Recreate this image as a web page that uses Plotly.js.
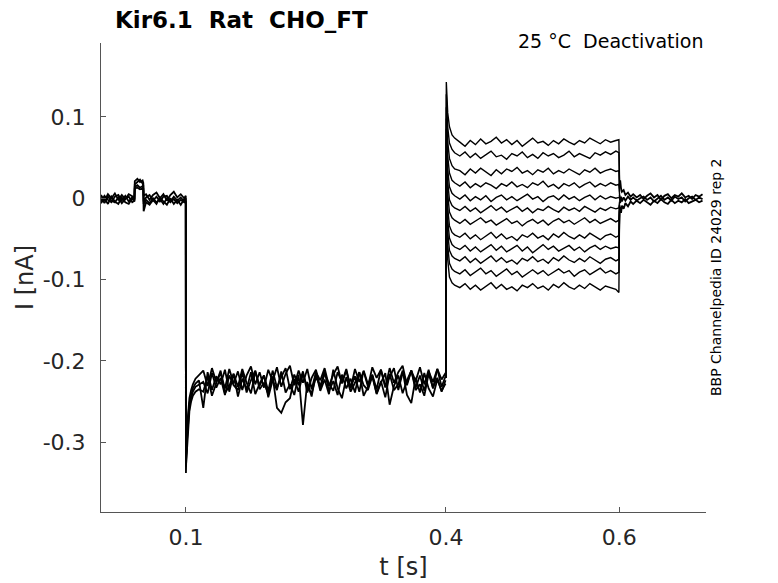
<!DOCTYPE html>
<html>
<head>
<meta charset="utf-8">
<script src="https://cdn.plot.ly/plotly-3.0.1.min.js"></script>
<style>
  body { margin: 0; background: #fff; }
  #plot { width: 778px; height: 583px; }
</style>
</head>
<body>
<div id="plot"></div>
<script>
// holding + prepulse segment (the sweeps overlap here, drawn as a band)
var tBase = [0.002, 0.006, 0.010, 0.014, 0.018, 0.022, 0.026, 0.030, 0.034, 0.038,
	0.0405, 0.041, 0.044, 0.047, 0.050, 0.0508, 0.0512, 0.054, 0.058, 0.062,
	0.066, 0.070, 0.074, 0.078, 0.082, 0.086, 0.090, 0.094, 0.098, 0.0998];
var tDrop = [0.1000, 0.1008, 0.1015, 0.1025, 0.104, 0.106, 0.108, 0.111, 0.115];
var tHyp = [0.120, 0.125, 0.130, 0.135, 0.140, 0.145, 0.150, 0.155, 0.160, 0.165,
	0.170, 0.175, 0.180, 0.185, 0.190, 0.195, 0.200, 0.205, 0.210, 0.215,
	0.220, 0.225, 0.230, 0.235, 0.240, 0.245, 0.250, 0.255, 0.260, 0.265,
	0.270, 0.275, 0.280, 0.285, 0.290, 0.295, 0.300, 0.305, 0.310, 0.315,
	0.320, 0.325, 0.330, 0.335, 0.340, 0.345, 0.350, 0.355, 0.360, 0.365,
	0.370, 0.375, 0.380, 0.385, 0.390, 0.395, 0.3995];

var baseA = [0.004, -0.003, 0.005, 0.000, 0.006, -0.002, 0.004, -0.001, 0.005, 0.002,
	0.001, 0.021, 0.024, 0.020, 0.022, 0.019, 0.003, 0.005, -0.002, 0.004,
	0.007, 0.000, 0.005, -0.003, 0.004, 0.008, 0.001, 0.005, 0.000, 0.003];
var baseB = [-0.004, 0.003, -0.002, -0.005, 0.002, 0.004, -0.003, 0.003, -0.004, 0.001,
	-0.002, 0.017, 0.020, 0.023, 0.018, 0.016, -0.004, 0.001, 0.004, -0.003,
	0.002, -0.004, 0.002, 0.003, -0.004, 0.002, -0.003, 0.001, -0.004, 0.000];
var baseC = [0.001, -0.006, 0.002, -0.003, -0.005, 0.001, -0.006, -0.001, 0.002, -0.005,
	-0.003, 0.014, 0.016, 0.013, 0.015, 0.012, -0.007, -0.002, -0.006, 0.000,
	-0.005, -0.001, -0.007, 0.000, -0.005, -0.001, -0.006, -0.002, -0.005, -0.003];
var baseD = [-0.006, 0.000, -0.007, 0.002, -0.004, -0.007, 0.001, -0.005, -0.007, 0.000,
	-0.004, 0.012, 0.013, 0.011, 0.012, 0.010, -0.016, -0.005, -0.008, -0.002,
	-0.007, 0.001, -0.004, -0.008, 0.000, -0.007, -0.002, -0.008, -0.001, -0.005];

var dropA = [-0.338, -0.300, -0.279, -0.262, -0.246, -0.236, -0.229, -0.222, -0.218];
var dropB = [-0.325, -0.305, -0.288, -0.270, -0.252, -0.241, -0.234, -0.228, -0.224];
var dropC = [-0.318, -0.310, -0.293, -0.276, -0.257, -0.245, -0.238, -0.232, -0.229];
var dropD = [-0.330, -0.315, -0.297, -0.281, -0.262, -0.250, -0.243, -0.238, -0.235];

var hypA = [-0.212, -0.231, -0.209, -0.226, -0.215, -0.234, -0.210, -0.228, -0.213, -0.236,
	-0.218, -0.207, -0.229, -0.214, -0.233, -0.211, -0.225, -0.208, -0.232, -0.216,
	-0.206, -0.230, -0.212, -0.227, -0.210, -0.235, -0.214, -0.224, -0.209, -0.231,
	-0.217, -0.207, -0.228, -0.212, -0.234, -0.210, -0.226, -0.213, -0.232, -0.208,
	-0.221, -0.211, -0.233, -0.209, -0.227, -0.214, -0.206, -0.230, -0.212, -0.225,
	-0.208, -0.229, -0.211, -0.234, -0.210, -0.223, -0.215];
var hypB = [-0.258, -0.214, -0.236, -0.219, -0.229, -0.211, -0.238, -0.216, -0.232, -0.210,
	-0.227, -0.240, -0.213, -0.231, -0.218, -0.237, -0.212, -0.233, -0.220, -0.209,
	-0.235, -0.217, -0.230, -0.213, -0.239, -0.221, -0.211, -0.234, -0.216, -0.228,
	-0.237, -0.214, -0.226, -0.210, -0.233, -0.219, -0.238, -0.212, -0.229, -0.217,
	-0.235, -0.211, -0.231, -0.220, -0.209, -0.236, -0.215, -0.228, -0.212, -0.233,
	-0.218, -0.237, -0.213, -0.226, -0.210, -0.232, -0.219];
var hypC = [-0.226, -0.240, -0.215, -0.233, -0.221, -0.242, -0.218, -0.230, -0.236, -0.214,
	-0.239, -0.224, -0.212, -0.235, -0.227, -0.241, -0.219, -0.258, -0.264, -0.251,
	-0.246, -0.222, -0.238, -0.216, -0.233, -0.240, -0.220, -0.231, -0.213, -0.237,
	-0.225, -0.242, -0.217, -0.234, -0.222, -0.239, -0.214, -0.230, -0.236, -0.219,
	-0.241, -0.227, -0.215, -0.254, -0.231, -0.218, -0.240, -0.224, -0.212, -0.236,
	-0.229, -0.243, -0.216, -0.233, -0.221, -0.238, -0.224];
var hypD = [-0.238, -0.219, -0.243, -0.227, -0.212, -0.240, -0.231, -0.216, -0.244, -0.222,
	-0.235, -0.214, -0.241, -0.228, -0.218, -0.245, -0.224, -0.236, -0.213, -0.239,
	-0.229, -0.242, -0.217, -0.279, -0.226, -0.244, -0.215, -0.237, -0.223, -0.241,
	-0.211, -0.234, -0.246, -0.220, -0.238, -0.227, -0.214, -0.243, -0.232, -0.218,
	-0.240, -0.225, -0.245, -0.216, -0.236, -0.229, -0.212, -0.242, -0.252, -0.221,
	-0.239, -0.215, -0.234, -0.244, -0.223, -0.237, -0.228];

// test pulses, one per sweep
var tTest = [0.4000, 0.4004, 0.402, 0.404, 0.407, 0.410,
	0.416, 0.422, 0.428, 0.434, 0.440, 0.446, 0.452, 0.458, 0.464, 0.470,
	0.476, 0.482, 0.488, 0.494, 0.500, 0.506, 0.512, 0.518, 0.524, 0.530,
	0.536, 0.542, 0.548, 0.554, 0.560, 0.566, 0.572, 0.578, 0.584, 0.590,
	0.596, 0.5995, 0.6003];

var test0 = [-0.221, 0.143, 0.105, 0.088, 0.078, 0.074,
	0.069, 0.064, 0.071, 0.066, 0.073, 0.067, 0.070, 0.075, 0.068, 0.072,
	0.066, 0.071, 0.064, 0.069, 0.074, 0.068, 0.070, 0.065, 0.071, 0.067,
	0.073, 0.069, 0.066, 0.071, 0.068, 0.074, 0.070, 0.067, 0.072, 0.069,
	0.071, 0.072, 0.016];
var test1 = [-0.221, 0.128, 0.088, 0.068, 0.060, 0.056,
	0.052, 0.057, 0.050, 0.055, 0.049, 0.054, 0.058, 0.051, 0.053, 0.048,
	0.055, 0.052, 0.057, 0.050, 0.054, 0.049, 0.056, 0.052, 0.055, 0.050,
	0.053, 0.058, 0.051, 0.055, 0.052, 0.049, 0.056, 0.053, 0.057, 0.054,
	0.058, 0.056, 0.012];
var test2 = [-0.221, 0.112, 0.070, 0.049, 0.040, 0.036,
	0.034, 0.029, 0.036, 0.031, 0.037, 0.032, 0.028, 0.035, 0.030, 0.036,
	0.033, 0.038, 0.031, 0.034, 0.029, 0.035, 0.032, 0.037, 0.030, 0.034,
	0.031, 0.036, 0.033, 0.029, 0.035, 0.032, 0.037, 0.031, 0.034, 0.036,
	0.033, 0.034, 0.008];
var test3 = [-0.221, 0.098, 0.052, 0.031, 0.022, 0.019,
	0.015, 0.020, 0.013, 0.018, 0.014, 0.019, 0.016, 0.012, 0.018, 0.015,
	0.020, 0.014, 0.017, 0.013, 0.019, 0.016, 0.021, 0.014, 0.017, 0.012,
	0.018, 0.015, 0.019, 0.013, 0.017, 0.020, 0.014, 0.018, 0.015, 0.019,
	0.016, 0.017, 0.004];
var test4 = [-0.221, 0.085, 0.036, 0.014, 0.006, 0.003,
	-0.001, 0.004, -0.003, 0.002, -0.002, 0.003, -0.004, 0.001, 0.004, -0.002,
	0.002, -0.003, 0.001, 0.005, -0.001, 0.002, -0.004, 0.001, 0.003, -0.002,
	0.004, -0.001, 0.002, -0.003, 0.001, 0.004, -0.002, 0.003, -0.001, 0.002,
	0.000, 0.001, 0.000];
var test5 = [-0.221, 0.072, 0.020, -0.002, -0.009, -0.012,
	-0.015, -0.010, -0.016, -0.012, -0.018, -0.013, -0.009, -0.015, -0.011, -0.017,
	-0.014, -0.010, -0.016, -0.012, -0.018, -0.013, -0.015, -0.010, -0.014, -0.017,
	-0.011, -0.015, -0.012, -0.016, -0.010, -0.014, -0.017, -0.012, -0.015, -0.011,
	-0.013, -0.012, -0.004];
var test6 = [-0.221, 0.058, 0.005, -0.017, -0.024, -0.027,
	-0.031, -0.026, -0.032, -0.028, -0.024, -0.030, -0.027, -0.033, -0.029, -0.025,
	-0.031, -0.028, -0.034, -0.029, -0.026, -0.031, -0.027, -0.033, -0.028, -0.025,
	-0.030, -0.027, -0.032, -0.028, -0.024, -0.030, -0.026, -0.031, -0.028, -0.025,
	-0.029, -0.027, -0.008];
var test7 = [-0.221, 0.044, -0.012, -0.034, -0.042, -0.045,
	-0.048, -0.043, -0.050, -0.045, -0.051, -0.046, -0.042, -0.049, -0.044, -0.050,
	-0.047, -0.052, -0.045, -0.048, -0.043, -0.049, -0.046, -0.051, -0.044, -0.048,
	-0.042, -0.047, -0.050, -0.045, -0.049, -0.043, -0.047, -0.051, -0.046, -0.044,
	-0.048, -0.046, -0.011];
var test8 = [-0.221, 0.030, -0.027, -0.049, -0.057, -0.060,
	-0.063, -0.058, -0.065, -0.060, -0.066, -0.061, -0.057, -0.064, -0.059, -0.066,
	-0.062, -0.058, -0.065, -0.060, -0.067, -0.062, -0.057, -0.063, -0.059, -0.065,
	-0.061, -0.058, -0.064, -0.060, -0.066, -0.061, -0.058, -0.063, -0.059, -0.062,
	-0.060, -0.061, -0.014];
var test9 = [-0.221, 0.015, -0.042, -0.064, -0.071, -0.074,
	-0.077, -0.072, -0.079, -0.074, -0.080, -0.075, -0.071, -0.078, -0.073, -0.079,
	-0.076, -0.081, -0.074, -0.077, -0.072, -0.078, -0.075, -0.080, -0.073, -0.077,
	-0.071, -0.076, -0.079, -0.074, -0.078, -0.072, -0.076, -0.080, -0.075, -0.073,
	-0.077, -0.075, -0.016];
var test10 = [-0.221, 0.000, -0.058, -0.080, -0.087, -0.090,
	-0.093, -0.088, -0.095, -0.090, -0.086, -0.093, -0.089, -0.096, -0.091, -0.087,
	-0.094, -0.090, -0.097, -0.092, -0.088, -0.093, -0.089, -0.095, -0.091, -0.087,
	-0.092, -0.089, -0.096, -0.091, -0.088, -0.094, -0.090, -0.086, -0.092, -0.089,
	-0.093, -0.091, -0.012];
var test11 = [-0.221, -0.020, -0.075, -0.097, -0.104, -0.107,
	-0.110, -0.105, -0.112, -0.107, -0.113, -0.108, -0.104, -0.111, -0.106, -0.112,
	-0.109, -0.114, -0.107, -0.110, -0.105, -0.111, -0.108, -0.113, -0.106, -0.110,
	-0.104, -0.109, -0.112, -0.107, -0.111, -0.105, -0.109, -0.113, -0.108, -0.110,
	-0.112, -0.116, -0.008];

// tail after the test pulse
var tTail = [0.6003, 0.601, 0.602, 0.603, 0.605, 0.607, 0.610, 0.613, 0.616,
	0.620, 0.624, 0.628, 0.632, 0.636, 0.640, 0.644, 0.648, 0.652, 0.656,
	0.660, 0.664, 0.668, 0.672, 0.676, 0.680, 0.684, 0.688, 0.692, 0.696];
var tailE = [0.016, 0.022, 0.012, 0.008, 0.010, 0.004, 0.007, 0.002, 0.005,
	0.001, 0.004, -0.001, 0.003, 0.006, 0.001, 0.004, -0.002, 0.003, 0.005,
	0.000, 0.004, 0.002, 0.006, 0.001, 0.003, -0.001, 0.004, 0.002, 0.005];
var tailF = [0.004, -0.006, 0.002, -0.004, 0.001, -0.003, 0.002, -0.002, 0.001,
	-0.003, 0.000, 0.002, -0.002, 0.001, -0.004, 0.000, 0.003, -0.002, 0.001,
	-0.003, 0.002, -0.001, 0.001, -0.004, 0.000, 0.002, -0.002, 0.001, -0.001];
var tailG = [-0.010, -0.014, -0.018, -0.009, -0.013, -0.006, -0.010, -0.004, -0.007,
	-0.003, -0.006, -0.002, -0.005, -0.008, -0.003, -0.006, -0.001, -0.005, -0.007,
	-0.002, -0.006, -0.003, -0.005, -0.001, -0.006, -0.004, -0.002, -0.005, -0.003];

var font = 'DejaVu Sans, Liberation Sans, sans-serif';
var ink = '#000000';

function line(x, y, w){
	return {
		x: x,
		y: y,
		type: 'scatter',
		mode: 'lines',
		line: {color: ink, width: w || 1.5},
		hoverinfo: 'skip',
		showlegend: false
	};
}

var tPre = tBase.concat(tDrop, tHyp);
var data = [
	line(tPre, baseA.concat(dropA, hypA), 1.8),
	line(tPre, baseB.concat(dropB, hypB), 1.8),
	line(tPre, baseC.concat(dropC, hypC), 1.8),
	line(tPre, baseD.concat(dropD, hypD), 1.8)
];
var tests = [test0, test1, test2, test3, test4, test5, test6, test7, test8, test9, test10, test11];
for(var i = 0; i < tests.length; i++){
	data.push(line(tTest, tests[i], 1.4));
}
data.push(line(tTail, tailE, 1.8));
data.push(line(tTail, tailF, 1.8));
data.push(line(tTail, tailG, 1.8));

var axisLine = '#555555';
var tickColor = '#262626';

var layout = {
	width: 778,
	height: 583,
	margin: {l: 101, r: 72, t: 43, b: 71},
	paper_bgcolor: '#ffffff',
	plot_bgcolor: '#ffffff',
	font: {family: font, color: tickColor},
	title: {
		text: '<b>Kir6.1\u00a0 Rat\u00a0 CHO_FT</b>',
		font: {family: font, size: 23, color: '#000000'},
		xref: 'container',
		yref: 'container',
		x: 115 / 778,
		xanchor: 'left',
		y: 1 - 20 / 583,
		yanchor: 'middle'
	},
	xaxis: {
		range: [0.002, 0.7],
		tickvals: [0.1, 0.4, 0.6],
		ticktext: ['0.1', '0.4', '0.6'],
		ticks: 'inside',
		ticklen: 5,
		tickcolor: axisLine,
		showline: true,
		linecolor: axisLine,
		linewidth: 1,
		showgrid: false,
		zeroline: false,
		ticklabelstandoff: 6,
		tickfont: {family: font, size: 22, color: tickColor},
		title: {text: 't [s]', font: {family: font, size: 24, color: tickColor}, standoff: 8}
	},
	yaxis: {
		range: [-0.386, 0.191],
		tickvals: [-0.3, -0.2, -0.1, 0, 0.1],
		ticktext: ['-0.3', '-0.2', '-0.1', '0', '0.1'],
		ticks: 'inside',
		ticklen: 5,
		tickcolor: axisLine,
		showline: true,
		linecolor: axisLine,
		linewidth: 1,
		showgrid: false,
		zeroline: false,
		ticklabelstandoff: 10,
		tickfont: {family: font, size: 22, color: tickColor},
		title: {text: 'I [nA]', font: {family: font, size: 24, color: tickColor}, standoff: 2}
	},
	annotations: [
		{
			text: '25 \u00b0C\u00a0 Deactivation',
			xref: 'paper', yref: 'paper',
			x: 0.998, y: 1.004,
			xanchor: 'right', yanchor: 'middle',
			showarrow: false,
			font: {family: font, size: 19, color: '#000000'}
		},
		{
			text: 'BBP Channelpedia ID 24029 rep 2',
			xref: 'paper', yref: 'paper',
			x: 1.0165, y: 0.501,
			xanchor: 'center', yanchor: 'middle',
			textangle: -90,
			showarrow: false,
			font: {family: font, size: 14, color: '#000000'}
		}
	]
};

Plotly.newPlot('plot', data, layout, {staticPlot: true, displayModeBar: false});
</script>
</body>
</html>
